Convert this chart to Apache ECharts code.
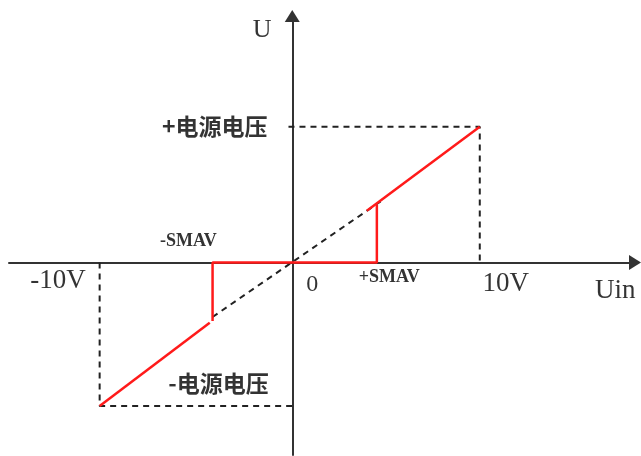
<!DOCTYPE html>
<html>
<head>
<meta charset="utf-8">
<script src="https://cdn.jsdelivr.net/npm/echarts@6/dist/echarts.min.js"></script>
<style>
  html, body { margin: 0; padding: 0; background: #fff; }
  #main { width: 641px; height: 456px; }
</style>
</head>
<body>
<div id="main"></div>
<script>
// transfer characteristic, values (x: Uin, y: U)
var redLower = [[-10.2, -7.6], [-4.37, -3.2]];
var redStep = [[-4.22, -3.1], [-4.22, 0], [4.48, 0], [4.48, 3.05]];
var redUpper = [[3.95, 2.73], [9.93, 7.18]];
var dashDiag = [[-4.22, -2.89], [4.79, 3.31]];
var dashNeg = [[-10.2, 0], [-10.2, -7.6], [0, -7.6]];
var dashPos = [[-0.2, 7.18], [9.93, 7.18], [9.93, 0]];

// annotations
var latinLabels = ['U', 'Uin', '0', '10V', '-10V', '+SMAV', '-SMAV'];
var latinPos = [[-1.6, 12.3], [17.1, -1.5], [1.06, -1.2], [11.3, -1.15], [-12.4, -1.0], [5.14, -0.8], [-5.5, 1.1]];
var latinSize = [26, 27, 24, 27, 27, 18, 18];
var latinBold = [false, false, false, false, false, true, true];
var cjkLabels = ['+电源电压', '-电源电压'];
var cjkPos = [[-4.1, 7.2], [-3.9, -6.4]];

var chart = echarts.init(document.getElementById('main'));

function seg(data, color, width, dash) {
  return {
    type: 'line',
    data: data,
    symbol: 'none',
    silent: true,
    animation: false,
    lineStyle: { color: color, width: width, type: dash ? [6, 5] : 'solid' }
  };
}

var labelData = [];
latinLabels.forEach(function(t, i) {
  labelData.push({
    value: latinPos[i].concat([t]),
    label: {
      fontFamily: 'Liberation Serif',
      fontSize: latinSize[i],
      fontWeight: latinBold[i] ? 'bold' : 'normal'
    }
  });
});
cjkLabels.forEach(function(t, i) {
  labelData.push({
    value: cjkPos[i].concat([t]),
    label: { fontFamily: 'Noto Sans CJK SC', fontSize: 23, fontWeight: 'bold' }
  });
});

var axisCommon = {
  type: 'value',
  axisLine: {
    onZero: true,
    symbol: ['none', 'triangle'],
    symbolSize: [15, 12],
    lineStyle: { color: '#333', width: 2 }
  },
  axisTick: { show: false },
  axisLabel: { show: false },
  splitLine: { show: false }
};

chart.setOption({
  animation: false,
  backgroundColor: '#fff',
  grid: { left: 9, right: 6, top: 16, bottom: 1 },
  xAxis: Object.assign({ min: -15, max: 18.15 }, axisCommon),
  yAxis: Object.assign({ min: -10.2, max: 13.05 }, axisCommon),
  series: [
    seg(dashNeg, '#222', 2, true),
    seg(dashPos, '#222', 2, true),
    seg(dashDiag, '#222', 2, true),
    seg(redLower, '#ff1a1a', 2.5, false),
    seg(redStep, '#ff1a1a', 2.5, false),
    seg(redUpper, '#ff1a1a', 2.5, false),
    {
      type: 'scatter',
      symbolSize: 0,
      silent: true,
      data: labelData,
      label: {
        show: true,
        position: 'inside',
        color: '#000',
        formatter: function(p) { return p.value[2]; }
      }
    }
  ]
});
</script>
</body>
</html>
